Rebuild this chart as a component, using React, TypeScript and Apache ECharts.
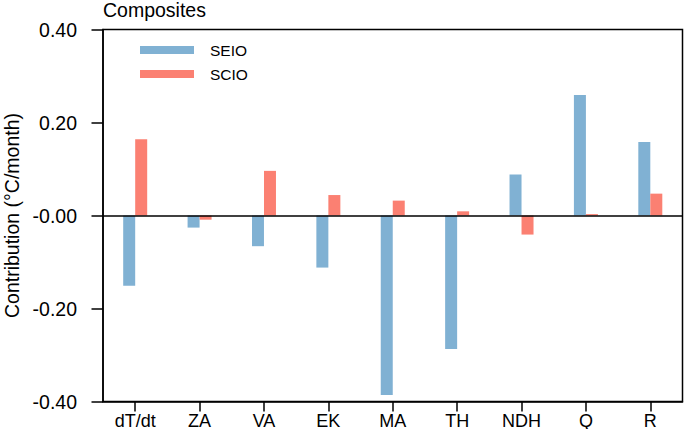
import React, { useEffect, useRef } from "react";
import * as echarts from "echarts";

const categories = ["dT/dt", "ZA", "VA", "EK", "MA", "TH", "NDH", "Q", "R"];
const seioValues = [-0.151, -0.026, -0.066, -0.112, -0.386, -0.287, 0.088, 0.259, 0.158];
const scioValues = [0.164, -0.009, 0.096, 0.044, 0.032, 0.009, -0.041, 0.003, 0.047];
const yTickValues = [-0.4, -0.2, 0, 0.2, 0.4];
const yTickLabels = ["-0.40", "-0.20", "-0.00", "0.20", "0.40"];

const FONT = "Liberation Sans, Arial, Helvetica, sans-serif";

export default function App() {
  const ref = useRef<HTMLDivElement>(null);
  useEffect(() => {
    if (!ref.current) return;
    const chart = echarts.init(ref.current, undefined, { renderer: "svg" });
    chart.setOption({
      animation: false,
      backgroundColor: "#ffffff",
      textStyle: { fontFamily: FONT },
      title: {
        text: "Composites",
        left: 98,
        top: -5,
        textStyle: { fontSize: 19.5, fontWeight: "normal", color: "#000", fontFamily: FONT },
      },
      legend: {
        orient: "vertical",
        left: 135,
        top: 37,
        itemWidth: 54,
        itemHeight: 8,
        itemGap: 8,
        icon: "rect",
        textStyle: { fontSize: 15.5, color: "#000", fontFamily: FONT, padding: [0, 0, 0, 11] },
        data: ["SEIO", "SCIO"],
      },
      grid: {
        left: 103,
        right: 2.5,
        top: 29.5,
        bottom: 27.5,
        show: true,
        borderColor: "#000",
        borderWidth: 1.5,
        containLabel: false,
        outerBoundsMode: "none",
      },
      xAxis: {
        type: "category",
        data: categories,
        axisLine: { show: true, onZero: false, lineStyle: { color: "#000", width: 1.5 } },
        axisTick: { show: true, inside: false, length: 10, alignWithLabel: true, lineStyle: { color: "#000", width: 1.5 } },
        axisLabel: { fontSize: 18, color: "#000", margin: 10, fontFamily: FONT },
      },
      yAxis: {
        type: "value",
        min: -0.4,
        max: 0.4,
        interval: 0.2,
        name: "Contribution (\u00B0C/month)",
        nameLocation: "middle",
        nameGap: 81,
        nameTextStyle: { fontSize: 19.5, color: "#000", fontFamily: FONT },
        axisLine: { show: true, lineStyle: { color: "#000", width: 1.5 } },
        axisTick: { show: true, inside: false, length: 11.5, lineStyle: { color: "#000", width: 1.5 } },
        axisLabel: {
          fontSize: 19.5,
          color: "#000",
          margin: 26,
          fontFamily: FONT,
          formatter: (v: number) => {
            const i = yTickValues.findIndex((t) => Math.abs(t - v) < 1e-6);
            return i >= 0 ? yTickLabels[i] : "";
          },
        },
        splitLine: { show: false },
      },
      series: [
        {
          name: "SEIO",
          type: "bar",
          data: seioValues,
          barWidth: 12,
          barGap: "0%",
          itemStyle: { color: "#80b1d3" },
          markLine: {
            silent: true,
            symbol: "none",
            label: { show: false },
            lineStyle: { color: "#000", width: 1.5, type: "solid" },
            data: [{ yAxis: 0 }],
          },
        },
        {
          name: "SCIO",
          type: "bar",
          data: scioValues,
          barWidth: 12,
          barGap: "0%",
          itemStyle: { color: "#fb8072" },
        },
      ],
    });
    return () => chart.dispose();
  }, []);
  return (
    <div
      ref={ref}
      style={{ position: "fixed", left: 0, top: 0, width: 685, height: 429 }}
    />
  );
}
